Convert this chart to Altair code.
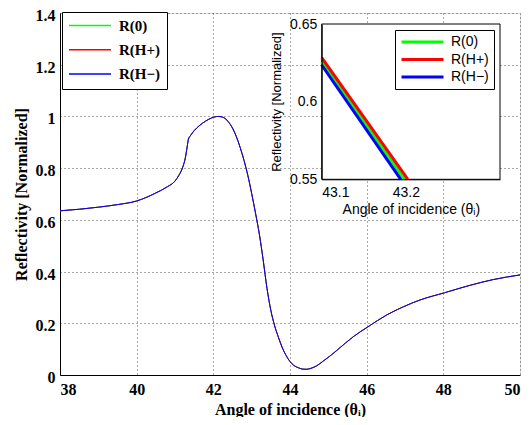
import altair as alt
import pandas as pd

# ---- data ----
series = ["R(0)", "R(H+)", "R(H−)"]
colors = ["#00ff00", "#ff0000", "#0000ff"]

angle = [38.0, 38.5, 39.0, 39.5, 40.0, 40.5, 40.8, 41.0, 41.1, 41.2, 41.27, 41.32,
         41.35, 41.4, 41.5, 41.65, 41.8, 41.95, 42.13, 42.2, 42.3, 42.4, 42.5,
         42.6, 42.7, 42.8, 42.9, 43.0, 43.1, 43.2, 43.3, 43.4, 43.5,
         43.6, 43.7, 43.8, 43.9, 44.0, 44.1, 44.22, 44.32, 44.42, 44.55, 44.7,
         44.85, 45.04, 45.22, 45.45, 45.65, 46.03, 46.52, 46.96, 47.39, 48.03,
         48.7, 49.3, 50.0]
refl = [0.635, 0.641, 0.649, 0.659, 0.673, 0.704, 0.728, 0.750, 0.772, 0.803, 0.840,
        0.885, 0.912, 0.925, 0.945, 0.966, 0.982, 0.994, 1.000, 0.999, 0.993, 0.978,
        0.955, 0.922, 0.880, 0.830, 0.772, 0.702, 0.626, 0.545, 0.445, 0.335, 0.250,
        0.190, 0.145, 0.105, 0.075, 0.052, 0.037, 0.028, 0.023, 0.022, 0.026,
        0.036, 0.052, 0.073, 0.095, 0.124, 0.148, 0.186, 0.232, 0.264, 0.290, 0.318,
        0.347, 0.369, 0.387]

# inset (zoom) data: start and end points of each series
inset_angle_r0 = [43.1, 43.1983]
inset_r0 = [0.6257, 0.55]
inset_angle_rhp = [43.1, 43.2024]
inset_rhp = [0.6283, 0.55]
inset_angle_rhm = [43.1, 43.194]
inset_rhm = [0.6236, 0.55]

main_xlim = [38, 50]
main_ylim = [0, 1.4]
main_xticks = [38, 40, 42, 44, 46, 48, 50]
main_yticks = [0, 0.2, 0.4, 0.6, 0.8, 1.0, 1.2, 1.4]
inset_xlim = [43.1, 43.312]
inset_ylim = [0.55, 0.65]
inset_xticks = [43.1, 43.2]
inset_yticks = [0.55, 0.6, 0.65]

# ---- tables ----
main_rows = []
for s in series:
    for a, r in zip(angle, refl):
        main_rows.append({"series": s, "angle": a, "refl": r})
main_df = pd.DataFrame(main_rows)

inset_rows = []
for s, xs, ys in zip(series, [inset_angle_r0, inset_angle_rhp, inset_angle_rhm],
                     [inset_r0, inset_rhp, inset_rhm]):
    for a, r in zip(xs, ys):
        inset_rows.append({"series": s, "angle": a, "refl": r})
inset_df = pd.DataFrame(inset_rows)

frame_df = pd.DataFrame({"x0": [inset_xlim[0]], "x1": [inset_xlim[1]],
                         "y0": [inset_ylim[0]], "y1": [inset_ylim[1]]})

W, H = 460, 362
SERIF = "Liberation Serif"
SANS = "Liberation Sans"

# ---- main plot ----
main = alt.Chart(main_df).mark_line(strokeWidth=1, interpolate="monotone").encode(
    x=alt.X("angle:Q",
            scale=alt.Scale(domain=main_xlim, nice=False, zero=False),
            axis=alt.Axis(values=main_xticks, title="Angle of incidence (θᵢ)",
                          grid=True, gridDash=[1, 3], gridColor="#555",
                          ticks=False, domainColor="black", labelPadding=6,
                          labelFont=SERIF, labelFontSize=16, labelFontWeight="bold",
                          labelColor="black", titleFont=SERIF, titleFontSize=16,
                          titleFontWeight="bold", titleColor="black", titlePadding=4)),
    y=alt.Y("refl:Q",
            scale=alt.Scale(domain=main_ylim, nice=False, zero=False),
            axis=alt.Axis(values=main_yticks, format="~g",
                          title="Reflectivity [Normalized]",
                          grid=True, gridDash=[1, 3], gridColor="#555",
                          ticks=False, domainColor="black", labelPadding=5,
                          labelOffset=2.5,
                          labelFont=SERIF, labelFontSize=16, labelFontWeight="bold",
                          labelColor="black", titleFont=SERIF, titleFontSize=16,
                          titleFontWeight="bold", titleColor="black", titlePadding=6)),
    color=alt.Color("series:N", sort=series,
                    scale=alt.Scale(domain=series, range=colors),
                    legend=alt.Legend(title=None, orient="none", legendX=2, legendY=-1,
                                      direction="vertical", symbolType="stroke",
                                      symbolSize=1764, symbolStrokeWidth=1.5,
                                      clipHeight=15, rowPadding=8.3, padding=6,
                                      labelOffset=7, labelFont=SERIF, labelFontSize=15,
                                      labelFontWeight="bold", labelColor="black",
                                      strokeColor="black", fillColor="white",
                                      symbolOpacity=1)),
)

# ---- inset ----
ixs = alt.Scale(domain=inset_xlim, range=[261.7, 440], nice=False, zero=False)
iys = alt.Scale(domain=inset_ylim, range=[166.3, 11], nice=False, zero=False)
ix_axis = alt.Axis(orient="bottom", offset=-(H - 166.3), values=inset_xticks, format=".1f",
                   title="Angle of incidence (θᵢ)", grid=False, ticks=False,
                   domainColor="black", zindex=1, labelPadding=6,
                   labelFont=SANS, labelFontSize=14, labelColor="black",
                   titleFont=SANS, titleFontSize=14, titleFontWeight="normal",
                   titleColor="black", titlePadding=3)
iy_axis = alt.Axis(orient="left", offset=-261.7, values=inset_yticks, format="~g",
                   title="Reflectivity [Normalized]", grid=False, ticks=False,
                   domainColor="black", zindex=1, labelPadding=5,
                   labelFont=SANS, labelFontSize=14, labelColor="black",
                   titleFont=SANS, titleFontSize=13, titleFontWeight="normal",
                   titleColor="black", titlePadding=6)

inset_frame = alt.Chart(frame_df).mark_rect(fill="white", stroke="black", strokeWidth=1).encode(
    x=alt.X("x0:Q", scale=ixs, axis=ix_axis),
    x2="x1:Q",
    y=alt.Y("y0:Q", scale=iys, axis=iy_axis),
    y2="y1:Q",
)

inset_lines = alt.Chart(inset_df).mark_line(strokeWidth=3).encode(
    x=alt.X("angle:Q", scale=ixs, axis=ix_axis),
    y=alt.Y("refl:Q", scale=iys, axis=iy_axis),
    color=alt.Color("series:N", sort=series,
                    scale=alt.Scale(domain=series, range=colors),
                    legend=alt.Legend(title=None, orient="none", legendX=335, legendY=17,
                                      direction="vertical", symbolType="stroke",
                                      symbolSize=1764, symbolStrokeWidth=3,
                                      clipHeight=14, rowPadding=3.5, padding=5,
                                      labelOffset=6, labelFont=SANS, labelFontSize=14,
                                      labelColor="black", strokeColor="black",
                                      fillColor="white", symbolOpacity=1)),
)

inset = alt.layer(inset_frame, inset_lines)

chart = alt.layer(main, inset).resolve_scale(
    x="independent", y="independent", color="independent"
).resolve_legend(color="independent").properties(
    width=W, height=H,
    autosize=alt.AutoSizeParams(type="none"),
    padding={"left": 52, "top": 5, "right": 2, "bottom": 42},
).configure_view(stroke="black", strokeWidth=1).configure(background="white")

chart.save("out.html", embed_options={"renderer": "svg", "actions": False})
